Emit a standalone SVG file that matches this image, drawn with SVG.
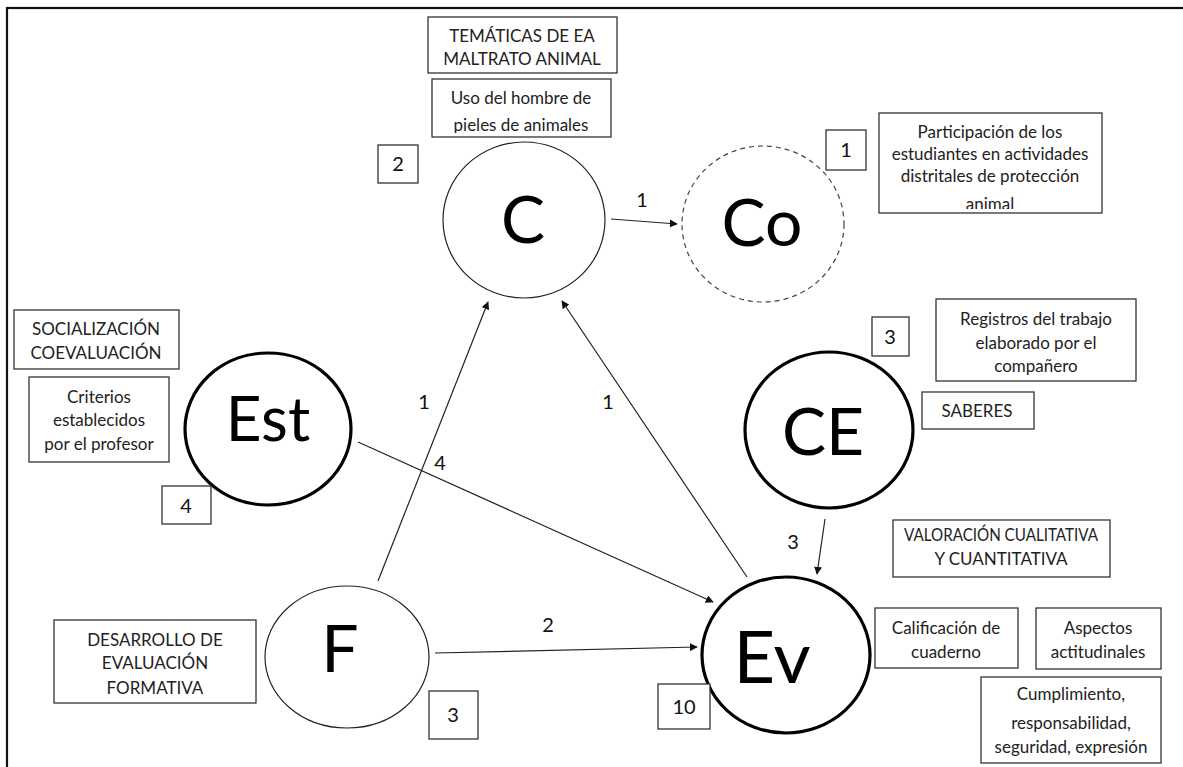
<svg xmlns="http://www.w3.org/2000/svg" width="1183" height="767" viewBox="0 0 1183 767">
  <style>
    .box { fill: #fff; stroke: #333; stroke-width: 1.3; }
    .txt { font-family: Lato, "Open Sans", "Liberation Sans", sans-serif; font-size: 17px; fill: #222; text-anchor: middle; }
    .num { font-family: Lato, "Open Sans", "Liberation Sans", sans-serif; font-size: 20px; fill: #111; text-anchor: middle; }
    .big { font-family: Lato, "Open Sans", "Liberation Sans", sans-serif; fill: #000; text-anchor: middle; }
    .thin { fill: #fff; stroke: #222; stroke-width: 1.2; }
    .thick { fill: #fff; stroke: #000; stroke-width: 3.2; }
    .dash { fill: #fff; stroke: #444; stroke-width: 1.2; stroke-dasharray: 5 4; }
    .edge { fill: none; stroke: #222; stroke-width: 1.2; marker-end: url(#arrow); }
  </style>
  <defs>
    <marker id="arrow" viewBox="0 0 10 10" refX="9" refY="5" markerWidth="8" markerHeight="8" markerUnits="userSpaceOnUse" orient="auto">
      <path d="M0,0 L10,5 L0,10 z" fill="#111"/>
    </marker>
    <clipPath id="clipUso"><rect x="432" y="79" width="179" height="54"/></clipPath>
    <clipPath id="clipPart"><rect x="879" y="113" width="223" height="96"/></clipPath>
  </defs>

  <rect width="1183" height="767" fill="#fff"/>
  <!-- outer frame -->
  <rect x="7" y="8" width="1200" height="800" fill="none" stroke="#111" stroke-width="2.2"/>

  <!-- connectors -->
  <g id="connectors">
    <line class="edge" x1="611" y1="219" x2="677" y2="224"/>
    <text class="num" x="642" y="207">1</text>
    <line class="edge" x1="378" y1="581" x2="488" y2="302"/>
    <text class="num" x="424" y="409">1</text>
    <line class="edge" x1="747" y1="577" x2="562" y2="301"/>
    <text class="num" x="608" y="409">1</text>
    <line class="edge" x1="358" y1="442" x2="713" y2="602"/>
    <text class="num" x="440" y="470">4</text>
    <line class="edge" x1="435" y1="653" x2="697" y2="647"/>
    <text class="num" x="548" y="632">2</text>
    <line class="edge" x1="825" y1="519" x2="817" y2="574"/>
    <text class="num" x="793" y="549">3</text>
  </g>

  <!-- C node -->
  <g id="node-C">
    <ellipse class="thin" cx="524" cy="220" rx="81" ry="78"/>
    <text class="big" x="523" y="243" font-size="66">C</text>
    <rect class="box" x="428" y="17" width="189" height="56"/>
    <text class="txt" x="522" y="42">TEMÁTICAS DE EA</text>
    <text class="txt" x="522" y="65">MALTRATO ANIMAL</text>
    <rect class="box" x="432" y="79" width="179" height="58"/>
    <g clip-path="url(#clipUso)">
      <text class="txt" x="521" y="104">Uso del hombre de</text>
      <text class="txt" x="521" y="131">pieles de animales</text>
    </g>
    <rect class="box" x="378" y="145" width="40" height="38"/>
    <text class="num" x="398" y="171">2</text>
  </g>

  <!-- Co node -->
  <g id="node-Co">
    <ellipse class="dash" cx="763" cy="224" rx="81" ry="78"/>
    <text class="big" x="762" y="246" font-size="66">Co</text>
    <rect class="box" x="826" y="130" width="40" height="40"/>
    <text class="num" x="846" y="157">1</text>
    <rect class="box" x="879" y="113" width="223" height="100"/>
    <g clip-path="url(#clipPart)">
      <text class="txt" x="990" y="138">Participación de los</text>
      <text class="txt" x="990" y="160">estudiantes en actividades</text>
      <text class="txt" x="990" y="182">distritales de protección</text>
      <text class="txt" x="990" y="210">animal</text>
    </g>
  </g>

  <!-- Est node -->
  <g id="node-Est">
    <rect class="box" x="14" y="310" width="165" height="59"/>
    <text class="txt" x="96" y="335">SOCIALIZACIÓN</text>
    <text class="txt" x="96" y="359">COEVALUACIÓN</text>
    <rect class="box" x="29" y="377" width="140" height="85"/>
    <text class="txt" x="99" y="403">Criterios</text>
    <text class="txt" x="99" y="426">establecidos</text>
    <text class="txt" x="99" y="450">por el profesor</text>
    <ellipse class="thick" cx="268" cy="429" rx="83" ry="76"/>
    <text class="big" x="268" y="441" font-size="62">Est</text>
    <rect class="box" x="162" y="486" width="49" height="38"/>
    <text class="num" x="186" y="513">4</text>
  </g>

  <!-- CE node -->
  <g id="node-CE">
    <ellipse class="thick" cx="829" cy="430" rx="84" ry="78"/>
    <text class="big" x="823" y="455" font-size="66">CE</text>
    <rect class="box" x="872" y="317" width="37" height="39"/>
    <text class="num" x="890" y="344">3</text>
    <rect class="box" x="936" y="299" width="200" height="82"/>
    <text class="txt" x="1036" y="325">Registros del trabajo</text>
    <text class="txt" x="1036" y="349">elaborado por el</text>
    <text class="txt" x="1036" y="372">compañero</text>
    <rect class="box" x="922" y="392" width="112" height="37"/>
    <text class="txt" x="977" y="417">SABERES</text>
  </g>

  <!-- F node -->
  <g id="node-F">
    <rect class="box" x="54" y="620" width="202" height="83"/>
    <text class="txt" x="155" y="646">DESARROLLO DE</text>
    <text class="txt" x="155" y="669">EVALUACIÓN</text>
    <text class="txt" x="155" y="694">FORMATIVA</text>
    <ellipse class="thin" cx="347" cy="657" rx="82" ry="71"/>
    <text class="big" x="340" y="672" font-size="66">F</text>
    <rect class="box" x="429" y="691" width="49" height="48"/>
    <text class="num" x="453" y="722">3</text>
  </g>

  <!-- Ev node -->
  <g id="node-Ev">
    <ellipse class="thick" cx="786" cy="655" rx="84" ry="78"/>
    <text class="big" x="772" y="683" font-size="72">Ev</text>
    <rect class="box" x="658" y="684" width="52" height="45"/>
    <text class="num" x="684" y="714">10</text>
    <rect class="box" x="893" y="520" width="217" height="57"/>
    <text class="txt" x="1001" y="541" textLength="194" lengthAdjust="spacingAndGlyphs">VALORACIÓN CUALITATIVA</text>
    <text class="txt" x="1001" y="565">Y CUANTITATIVA</text>
    <rect class="box" x="875" y="608" width="143" height="60"/>
    <text class="txt" x="946" y="634">Calificación de</text>
    <text class="txt" x="946" y="658">cuaderno</text>
    <rect class="box" x="1036" y="608" width="125" height="61"/>
    <text class="txt" x="1098" y="634">Aspectos</text>
    <text class="txt" x="1098" y="658">actitudinales</text>
    <rect class="box" x="981" y="677" width="180" height="86"/>
    <text class="txt" x="1071" y="700">Cumplimiento,</text>
    <text class="txt" x="1071" y="729">responsabilidad,</text>
    <text class="txt" x="1071" y="753">seguridad, expresión</text>
  </g>
</svg>
